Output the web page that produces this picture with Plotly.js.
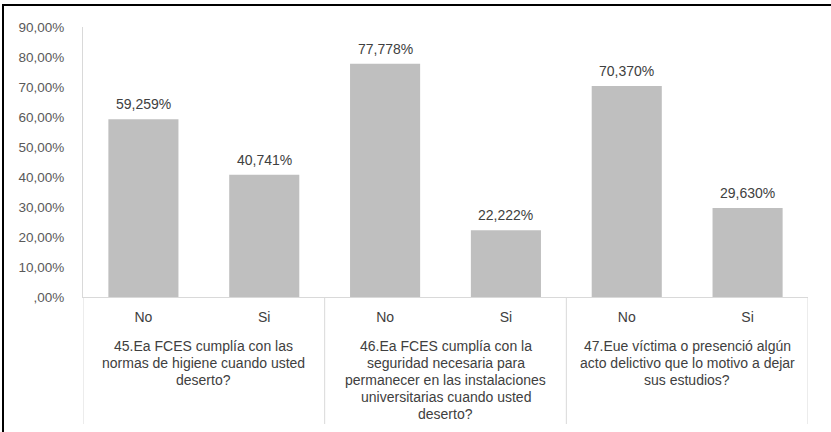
<!DOCTYPE html>
<html>
<head>
<meta charset="utf-8">
<script src="https://cdn.plot.ly/plotly-3.0.1.min.js"></script>
<style>
  html, body { margin: 0; padding: 0; background: #fff; }
  #wrap { position: relative; width: 831px; height: 432px; overflow: hidden; }
  #chart { width: 831px; height: 432px; }
  #frame { position: absolute; left: 2px; top: 4px; width: 840px; height: 440px;
           border-top: 2px solid #000; border-left: 2px solid #000; pointer-events: none; }
</style>
</head>
<body>
<div id="wrap">
  <div id="chart"></div>
  <div id="frame"></div>
</div>
<script>
const categories = ['No', 'Si', 'No', 'Si', 'No', 'Si'];
const values = [59.259, 40.741, 77.778, 22.222, 70.370, 29.630];
const valueLabels = ['59,259%', '40,741%', '77,778%', '22,222%', '70,370%', '29,630%'];
const yTickVals = [0, 10, 20, 30, 40, 50, 60, 70, 80, 90];
const yTickText = [',00%', '10,00%', '20,00%', '30,00%', '40,00%', '50,00%', '60,00%', '70,00%', '80,00%', '90,00%'];
const groupLabels = [
  ['45.Ea FCES cumplía con las', 'normas de higiene cuando usted', 'deserto?'],
  ['46.Ea FCES cumplía con la', 'seguridad necesaria para', 'permanecer en las instalaciones', 'universitarias cuando usted', 'deserto?'],
  ['47.Eue víctima o presenció algún', 'acto delictivo que lo motivo a dejar', 'sus estudios?']
];

const FONT = 'Liberation Sans, Arial, sans-serif';
const xIdx = categories.map((c, i) => i);

// plot area geometry (pixels) used to place out-of-plot labels
const plotTop = 27, plotBottom = 297, plotH = plotBottom - plotTop;
const toPaperY = py => (plotBottom - py) / plotH;

const annotations = [];
values.forEach((v, i) => {
  annotations.push({
    x: i, y: v, xref: 'x', yref: 'y', text: valueLabels[i], showarrow: false,
    yanchor: 'bottom', yshift: 5,
    font: { family: FONT, size: 14, color: '#404040' }
  });
});
groupLabels.forEach((lines, g) => {
  lines.forEach((line, k) => {
    annotations.push({
      x: 2 * g + 0.5, xref: 'x', y: toPaperY(346 + 17 * k), yref: 'paper',
      text: line, showarrow: false, yanchor: 'middle', xanchor: 'center',
      font: { family: FONT, size: 14, color: '#404040' }
    });
  });
});

const shapes = [-0.5, 1.5, 3.5, 5.5].map(x => ({
  type: 'line', xref: 'x', yref: 'paper', x0: x, x1: x, y0: 0, y1: toPaperY(424),
  line: { color: '#d9d9d9', width: 1 }
}));

const trace = {
  type: 'bar', x: xIdx, y: values, width: 0.58,
  marker: { color: '#bfbfbf', line: { width: 0 } },
  hoverinfo: 'skip'
};

const layout = {
  width: 831, height: 432,
  margin: { l: 83, r: 23, t: plotTop, b: 432 - plotBottom, pad: 0 },
  paper_bgcolor: '#ffffff', plot_bgcolor: '#ffffff',
  showlegend: false,
  font: { family: FONT, color: '#404040' },
  xaxis: {
    range: [-0.5, 5.5], tickvals: xIdx, ticktext: categories,
    showgrid: false, zeroline: false, showline: true, linecolor: '#d9d9d9', linewidth: 1,
    ticks: '', ticklabelstandoff: 7,
    tickfont: { family: FONT, size: 14, color: '#404040' }
  },
  yaxis: {
    range: [0, 90], tickvals: yTickVals, ticktext: yTickText,
    showgrid: false, zeroline: false, showline: true, linecolor: '#d9d9d9', linewidth: 1,
    ticks: '', ticklabelstandoff: 15,
    tickfont: { family: FONT, size: 13.5, color: '#595959' }
  },
  annotations: annotations,
  shapes: shapes
};

Plotly.newPlot('chart', [trace], layout, { staticPlot: true, displayModeBar: false });
</script>
</body>
</html>
